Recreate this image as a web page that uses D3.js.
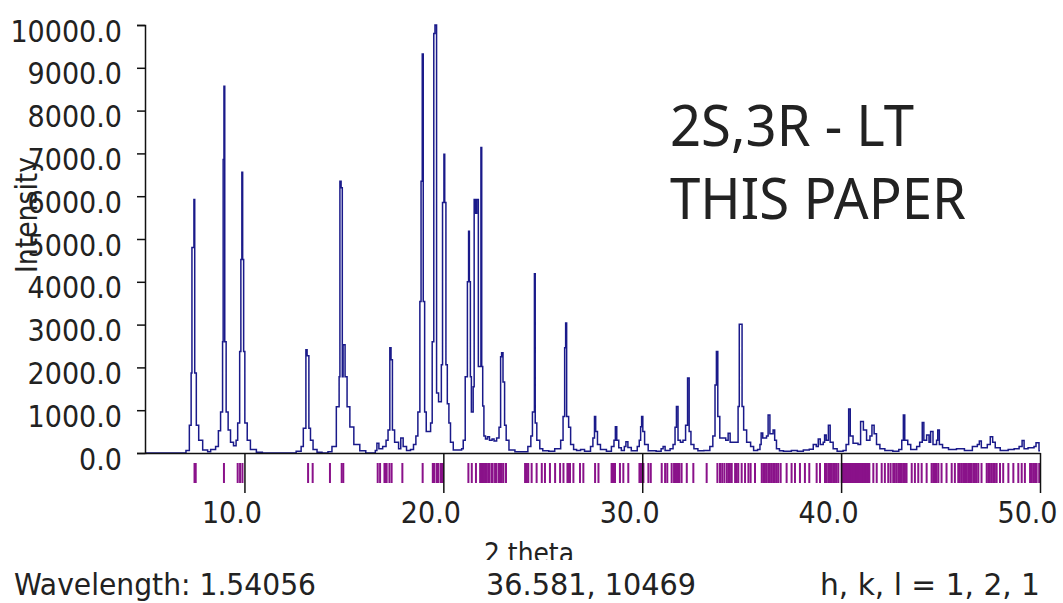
<!DOCTYPE html>
<html>
<head>
<meta charset="utf-8">
<script src="https://cdn.jsdelivr.net/npm/d3@7"></script>
<style>
  body { margin: 0; background: #fff; }
  svg { display: block; }
  text { font-family: 'DejaVu Sans Condensed', 'DejaVu Sans', sans-serif; font-stretch: condensed; fill: #222; }
</style>
</head>
<body>
<svg id="chart" width="1063" height="603"></svg>
<script>
// Calculated powder pattern: [2θ (deg), intensity] vertices of the stepped profile
const profilePoints = [
  [5.00,0],
  [6.70,0],[7.06,60],[7.23,650],[7.32,1870],[7.36,4800],[7.46,5925],[7.50,1870],[7.58,650],[7.70,300],[7.90,70],[8.15,30],
  [8.30,80],[8.55,150],[8.69,520],[8.80,960],[8.90,2600],[8.93,6860],[8.97,8570],[9.01,2600],[9.08,960],[9.18,540],[9.30,250],[9.45,170],
  [9.58,300],[9.66,700],[9.76,2370],[9.82,4520],[9.87,6560],[9.91,4520],[9.96,2370],[10.02,700],[10.14,300],[10.30,80],[10.60,20],[10.90,0],
  [12.30,0],[12.60,40],[12.85,150],[12.96,580],[13.09,2410],[13.15,2270],[13.24,580],[13.32,300],[13.45,80],[13.65,20],[13.90,0],
  [14.20,30],[14.40,150],[14.62,1080],[14.76,1780],[14.80,6350],[14.86,6200],[14.92,1780],[14.96,2530],[15.06,1780],[15.16,1080],[15.30,610],[15.50,200],[15.80,50],[16.10,0],
  [16.40,0],[16.58,60],[16.66,230],[16.76,100],[16.95,150],[17.12,300],[17.22,540],[17.31,2460],[17.37,2180],[17.44,540],[17.55,250],[17.75,100],[17.86,350],[17.98,150],[18.15,60],[18.35,80],[18.50,200],
  [18.62,400],[18.72,960],[18.82,3540],[18.88,6350],[18.94,9320],[18.99,3540],[19.06,960],[19.14,500],[19.36,700],[19.44,2600],[19.52,9800],[19.58,10000],[19.66,1400],[19.76,1200],[19.90,2060],[19.96,5850],[20.03,6980],[20.07,5850],[20.13,2060],[20.20,1150],[20.28,700],[20.36,250],[20.50,70],
  [20.92,100],[21.00,300],[21.10,1780],[21.21,4000],[21.27,5180],[21.31,4000],[21.36,1780],[21.41,960],[21.50,1550],[21.55,5925],[21.62,5600],[21.68,5925],[21.76,2020],[21.86,2020],[21.89,7140],[21.93,2020],[21.98,1100],[22.04,400],[22.12,330],[22.22,380],[22.32,300],[22.45,330],[22.55,280],[22.68,350],[22.80,600],[22.88,2250],[22.93,2340],[23.00,1660],[23.08,650],[23.16,300],[23.30,70],[23.60,30],
  [24.00,30],[24.25,150],[24.40,400],[24.48,960],[24.58,4190],[24.62,700],[24.70,300],[24.85,100],[25.00,50],
  [25.30,40],[25.60,100],[25.90,300],[26.02,850],[26.10,2460],[26.15,3040],[26.20,850],[26.30,600],[26.40,200],[26.55,80],[26.70,60],
  [26.90,80],[27.10,40],[27.40,150],[27.52,350],[27.60,850],[27.66,500],[27.75,200],[27.90,80],
  [28.20,40],[28.45,150],[28.58,300],[28.65,615],[28.72,300],[28.82,120],
  [28.95,60],[29.10,150],[29.18,265],[29.28,130],[29.45,50],
  [29.60,50],[29.75,150],[29.85,300],[29.92,615],[29.97,850],[30.03,500],[30.12,200],[30.30,50],
  [30.70,40],[30.95,100],[31.05,150],[31.15,60],[31.40,100],[31.55,200],[31.65,600],[31.72,1085],[31.80,300],
  [31.92,250],[32.05,300],[32.18,650],[32.28,1750],[32.36,500],[32.45,200],[32.60,100],[32.80,50],
  [33.10,60],[33.40,150],[33.55,400],[33.66,1590],[33.73,2370],[33.80,850],[33.90,350],[34.20,300],[34.32,460],[34.42,250],[34.70,250],[34.82,1085],[34.88,3010],[35.02,1085],[35.10,540],[35.25,250],[35.45,150],[35.60,60],
  [35.80,80],[35.92,200],[35.98,470],[36.06,350],[36.25,400],[36.33,890],[36.42,450],[36.58,540],[36.66,300],[36.75,100],[36.90,50],
  [37.10,40],[37.50,60],[37.80,40],[38.10,70],[38.40,90],[38.60,200],[38.75,150],[38.85,330],[38.95,200],[39.10,250],[39.17,420],[39.25,300],[39.36,650],[39.45,250],[39.60,100],[39.80,40],[40.10,60],
  [40.25,200],[40.38,1030],[40.46,400],[40.60,230],[40.85,200],[40.98,735],[41.12,540],[41.28,300],[41.45,400],[41.55,650],[41.66,450],[41.78,200],[41.95,100],[42.20,60],[42.60,40],[42.90,80],[43.05,300],
  [43.13,890],[43.20,300],[43.35,200],[43.50,80],[43.80,150],
  [43.95,250],[44.08,710],[44.16,300],[44.30,420],[44.42,250],[44.50,500],[44.62,200],[44.80,300],[44.86,540],[44.94,200],[45.10,120],[45.40,80],[45.80,100],[46.20,60],[46.60,150],
  [46.85,200],[46.95,280],[47.05,120],[47.35,200],[47.50,380],[47.62,250],[47.75,120],[48.00,60],[48.40,80],[48.70,100],
  [48.95,150],[49.10,290],[49.20,100],[49.40,120],[49.70,150],[49.80,240],[49.95,50],[50.00,50]
];

// Reflection positions (2θ) shown as tick marks under the axis
const reflections = [
  7.49,7.55,8.97,9.66,9.78,9.90,13.20,13.43,14.30,14.89,14.97,16.70,16.82,17.04,17.10,17.15,17.29,17.40,17.94,18.96,
  19.47,19.52,19.55,19.67,19.72,19.75,19.87,19.92,19.97,21.26,21.43,21.64,21.85,21.90,21.98,22.04,22.10,22.18,22.26,22.32,
  22.43,22.48,22.60,22.65,22.77,22.85,22.94,23.02,23.15,
  24.11,24.20,24.27,24.44,24.69,24.95,25.11,25.36,25.62,25.87,26.04,26.24,26.30,26.37,26.54,26.87,27.04,27.63,27.80,
  28.46,28.50,28.55,28.63,28.88,29.05,29.30,29.86,29.92,29.97,30.06,30.31,30.43,30.98,31.15,31.26,31.48,31.60,31.65,
  31.73,31.80,31.87,31.98,32.24,32.57,33.24,33.78,33.91,34.02,34.13,34.25,34.33,34.41,34.50,34.67,34.75,34.83,35.00,
  35.17,35.34,35.45,35.67,36.01,36.09,36.17,36.25,36.34,36.42,36.51,36.59,36.67,36.76,36.84,36.96,37.26,37.51,37.68,
  37.93,38.18,38.40,38.77,38.94,39.19,39.27,39.36,39.44,39.52,39.60,39.69,39.77,39.86,
  40.03,40.06,40.10,40.15,40.18,40.22,40.27,40.30,40.34,40.39,40.42,40.46,40.51,40.54,40.58,40.63,40.66,40.70,40.75,40.78,
  40.82,40.87,40.90,40.94,40.99,41.02,41.06,41.11,41.14,41.18,41.23,41.26,41.30,41.35,41.38,41.42,
  41.62,41.79,42.04,42.20,42.37,42.49,42.62,42.70,42.79,42.88,42.96,43.05,43.13,43.21,43.29,43.55,43.71,43.88,44.05,
  44.30,44.55,44.63,44.72,44.80,44.89,45.05,45.30,45.56,45.72,45.89,45.97,46.06,46.14,46.23,46.31,46.39,46.48,46.56,
  46.65,46.73,46.81,46.90,47.06,47.32,47.40,47.48,47.57,47.65,47.73,47.82,47.99,48.15,48.41,48.66,48.91,49.08,49.24,
  49.50,49.58,49.66,49.75,49.83,49.96
];

const xTicks = [10, 20, 30, 40, 50];
const yTicks = [0, 1000, 2000, 3000, 4000, 5000, 6000, 7000, 8000, 9000, 10000];
const titleLines = ["2S,3R - LT", "THIS PAPER"];
const xAxisTitle = "2 theta";
const yAxisTitle = "Intensity";
const wavelengthText = "Wavelength: 1.54056";
const cursorText = "36.581, 10469";
const hklText = "h, k, l = 1, 2, 1";

const svg = d3.select("#chart");

const x = d3.scaleLinear().domain([5, 50]).range([145, 1040]);
const y = d3.scaleLinear().domain([0, 10000]).range([453, 25]);

// y-axis title sits behind the tick labels
svg.append("text")
  .attr("transform", "translate(37,215) rotate(-90)")
  .attr("text-anchor", "middle")
  .attr("textLength", 116)
  .attr("lengthAdjust", "spacingAndGlyphs")
  .style("font-size", "31px")
  .text(yAxisTitle);

// reflection ticks
svg.append("g")
  .selectAll("line")
  .data(reflections)
  .join("line")
  .attr("x1", d => x(d)).attr("x2", d => x(d))
  .attr("y1", 463).attr("y2", 483)
  .attr("stroke", "#8a128a")
  .attr("stroke-width", 2);

// profile
const line = d3.line()
  .x(d => x(d[0]))
  .y(d => y(d[1]))
  .curve(d3.curveStepAfter);

svg.append("path")
  .datum(profilePoints)
  .attr("fill", "none")
  .attr("stroke", "#1a1a8a")
  .attr("stroke-width", 1.5)
  .attr("d", line);

// y axis
const yAxis = svg.append("g")
  .attr("transform", "translate(145,0)")
  .call(d3.axisLeft(y).tickValues(yTicks).tickFormat(d3.format(".1f")).tickSize(8).tickSizeOuter(8).tickPadding(15));
yAxis.selectAll("path, line").attr("stroke", "#111").attr("stroke-width", 1.5);
yAxis.selectAll("text")
  .attr("dy", "16px")
  .style("font-size", "30px")
  .attr("fill", "#222");

// x axis
const xAxis = svg.append("g")
  .attr("transform", "translate(0,453)")
  .call(d3.axisBottom(x).tickValues(xTicks).tickFormat(d3.format(".1f")).tickSize(40).tickSizeOuter(0));
xAxis.select(".domain").attr("stroke", "#111").attr("stroke-width", 1.5);
xAxis.selectAll(".tick line").attr("stroke", "#111").attr("stroke-width", 1.5);
xAxis.selectAll("text")
  .attr("y", 70)
  .attr("dy", null)
  .attr("x", -13)
  .style("font-size", "30px")
  .attr("fill", "#222");

// annotation
const annot = [
  { t: titleLines[0], y: 146, w: 244 },
  { t: titleLines[1], y: 219, w: 296 }
];
svg.append("g").selectAll("text")
  .data(annot)
  .join("text")
  .attr("x", 670).attr("y", d => d.y)
  .attr("textLength", d => d.w).attr("lengthAdjust", "spacingAndGlyphs")
  .style("font-family", "'Noto Sans', 'Open Sans', sans-serif")
  .style("font-stretch", "normal")
  .style("font-size", "56px")
  .attr("fill", "#111")
  .text(d => d.t);

// status line
svg.append("clipPath").attr("id", "xtitle-clip")
  .append("rect").attr("x", 400).attr("y", 528).attr("width", 300).attr("height", 32);
svg.append("text")
  .attr("clip-path", "url(#xtitle-clip)")
  .attr("x", 484).attr("y", 563)
  .attr("textLength", 90).attr("lengthAdjust", "spacingAndGlyphs")
  .style("font-size", "29px")
  .text(xAxisTitle);

const status = [
  { t: wavelengthText, x: 14, w: 302 },
  { t: cursorText, x: 486, w: 210 },
  { t: hklText, x: 820, w: 220 }
];
svg.append("g").selectAll("text")
  .data(status)
  .join("text")
  .attr("x", d => d.x).attr("y", 595)
  .attr("textLength", d => d.w).attr("lengthAdjust", "spacingAndGlyphs")
  .style("font-size", "30px")
  .text(d => d.t);
</script>
</body>
</html>
